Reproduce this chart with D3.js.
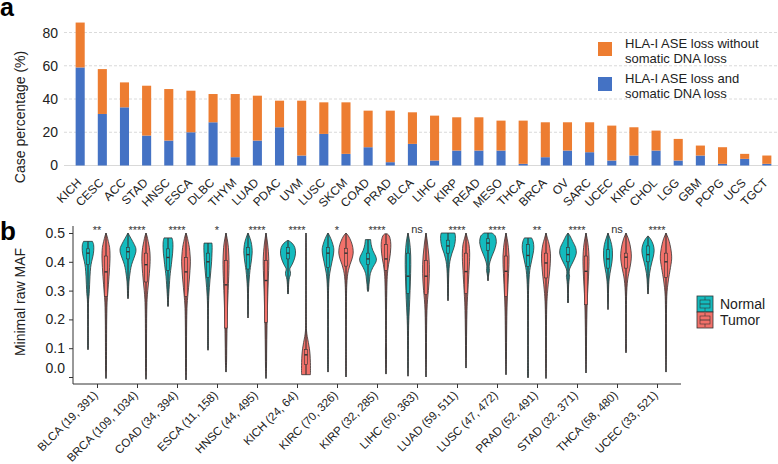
<!DOCTYPE html>
<html><head><meta charset="utf-8">
<script src="https://cdn.jsdelivr.net/npm/d3@7/dist/d3.min.js"></script>
<style>
body{margin:0;background:#fff;}
svg{font-family:"Liberation Sans",Arial,sans-serif;}
</style></head>
<body><svg id="c" width="778" height="464"></svg>
<script>
// ---------- Panel a data ----------
const categoriesA = ["KICH","CESC","ACC","STAD","HNSC","ESCA","DLBC","THYM","LUAD","PDAC","UVM","LUSC","SKCM","COAD","PRAD","BLCA","LIHC","KIRP","READ","MESO","THCA","BRCA","OV","SARC","UCEC","KIRC","CHOL","LGG","GBM","PCPG","UCS","TGCT"];
const withDnaLoss    = [59,31,35,18,15,20,26,5,15,23,6,19,7,11,2,13,3,9,9,9,1,5,9,8,3,6,9,3,6,1,4,1];
const withoutDnaLoss = [27,27,15,30,31,25,17,38,27,16,33,19,31,22,31,19,27,20,20,18,26,21,17,18,21,17,12,13,6,10,3,5];
const ticksA = [0,20,40,60,80];
const legendA = [["HLA-I ASE loss without","somatic DNA loss"],["HLA-I ASE loss and","somatic DNA loss"]];

// ---------- Panel b data ----------
const groupsB = ["BLCA (19, 391)","BRCA (109, 1034)","COAD (34, 394)","ESCA (11, 158)","HNSC (44, 495)","KICH (24, 64)","KIRC (70, 326)","KIRP (32, 285)","LIHC (50, 363)","LUAD (59, 511)","LUSC (47, 472)","PRAD (52, 491)","STAD (32, 371)","THCA (58, 480)","UCEC (33, 521)"];
const signifB = ["**","****","****","*","****","****","*","****","ns","****","****","**","****","ns","****"];
const ticksB = [0.0,0.1,0.2,0.3,0.4,0.5];
// violin profiles: [value, relative density width]
const normalProfiles = [
 [[0.471,0.55],[0.46,0.7],[0.44,0.72],[0.42,0.62],[0.40,0.45],[0.38,0.33],[0.35,0.25],[0.32,0.2],[0.29,0.15],[0.27,0.08],[0.24,0.05],[0.2,0.04],[0.15,0.035],[0.1,0.03],[0.095,0]],
 [[0.5,0],[0.49,0.2],[0.47,0.6],[0.45,0.95],[0.44,1.0],[0.43,0.95],[0.41,0.7],[0.39,0.45],[0.37,0.3],[0.35,0.2],[0.33,0.12],[0.30,0.07],[0.28,0.05],[0.272,0]],
 [[0.483,0.5],[0.47,0.6],[0.45,0.62],[0.43,0.58],[0.41,0.5],[0.39,0.42],[0.37,0.33],[0.35,0.25],[0.32,0.17],[0.29,0.1],[0.27,0.06],[0.25,0.04],[0.245,0]],
 [[0.465,0.5],[0.45,0.52],[0.43,0.5],[0.40,0.45],[0.37,0.36],[0.34,0.26],[0.31,0.17],[0.28,0.1],[0.25,0.06],[0.2,0.04],[0.15,0.035],[0.1,0.03],[0.093,0]],
 [[0.5,0],[0.49,0.15],[0.47,0.38],[0.45,0.5],[0.43,0.52],[0.41,0.45],[0.39,0.35],[0.37,0.25],[0.34,0.15],[0.31,0.08],[0.27,0.05],[0.23,0.04],[0.205,0]],
 [[0.475,0],[0.465,0.5],[0.45,0.85],[0.43,0.94],[0.41,0.8],[0.39,0.5],[0.375,0.22],[0.365,0.3],[0.355,0.3],[0.345,0.18],[0.33,0.1],[0.31,0.06],[0.29,0.04],[0.288,0]],
 [[0.5,0],[0.49,0.2],[0.47,0.5],[0.45,0.7],[0.44,0.73],[0.42,0.65],[0.40,0.5],[0.38,0.35],[0.36,0.22],[0.34,0.14],[0.31,0.08],[0.27,0.05],[0.2,0.04],[0.1,0.035],[0.03,0.03],[0.017,0]],
 [[0.477,0.33],[0.46,0.4],[0.44,0.6],[0.42,0.95],[0.41,1.05],[0.40,1.0],[0.38,0.6],[0.36,0.3],[0.34,0.2],[0.32,0.12],[0.30,0.06],[0.297,0]],
 [[0.5,0],[0.48,0.15],[0.45,0.28],[0.42,0.34],[0.39,0.35],[0.36,0.33],[0.33,0.3],[0.30,0.26],[0.27,0.22],[0.24,0.17],[0.21,0.12],[0.18,0.08],[0.14,0.06],[0.08,0.04],[0.03,0.03],[0.003,0]],
 [[0.5,0.85],[0.49,0.92],[0.47,0.9],[0.45,0.75],[0.43,0.5],[0.41,0.3],[0.39,0.18],[0.36,0.1],[0.32,0.06],[0.28,0.04],[0.265,0]],
 [[0.5,0.5],[0.49,0.9],[0.47,1.04],[0.46,1.0],[0.44,0.8],[0.42,0.5],[0.40,0.25],[0.385,0.15],[0.37,0.18],[0.36,0.12],[0.35,0.06],[0.334,0]],
 [[0.483,0.45],[0.47,0.65],[0.45,0.73],[0.43,0.65],[0.41,0.5],[0.39,0.35],[0.37,0.22],[0.34,0.13],[0.3,0.07],[0.24,0.05],[0.15,0.04],[0.07,0.035],[0.0,0.03],[-0.003,0]],
 [[0.5,0],[0.49,0.25],[0.47,0.6],[0.45,0.95],[0.43,1.04],[0.41,0.8],[0.39,0.45],[0.375,0.2],[0.36,0.15],[0.35,0.2],[0.34,0.15],[0.32,0.08],[0.29,0.05],[0.26,0.04],[0.257,0]],
 [[0.5,0],[0.48,0.25],[0.46,0.45],[0.44,0.55],[0.42,0.56],[0.40,0.5],[0.38,0.38],[0.36,0.25],[0.34,0.15],[0.32,0.09],[0.29,0.06],[0.26,0.04],[0.234,0]],
 [[0.49,0],[0.48,0.3],[0.46,0.65],[0.44,0.77],[0.42,0.68],[0.40,0.5],[0.38,0.33],[0.36,0.2],[0.34,0.12],[0.32,0.08],[0.30,0.05],[0.288,0]]
];
const tumorProfiles = [
 [[0.5,0],[0.49,0.12],[0.47,0.3],[0.45,0.45],[0.43,0.5],[0.41,0.5],[0.38,0.45],[0.35,0.38],[0.32,0.3],[0.29,0.22],[0.26,0.14],[0.22,0.1],[0.18,0.08],[0.12,0.07],[0.06,0.06],[0.02,0.05],[-0.005,0]],
 [[0.5,0],[0.49,0.12],[0.47,0.28],[0.45,0.42],[0.43,0.5],[0.41,0.52],[0.39,0.5],[0.36,0.42],[0.33,0.33],[0.30,0.22],[0.27,0.14],[0.22,0.09],[0.15,0.07],[0.08,0.06],[0.02,0.05],[-0.008,0]],
 [[0.5,0],[0.49,0.12],[0.47,0.28],[0.45,0.42],[0.42,0.52],[0.40,0.55],[0.37,0.5],[0.34,0.42],[0.31,0.32],[0.28,0.22],[0.25,0.14],[0.2,0.09],[0.14,0.07],[0.08,0.06],[0.02,0.05],[-0.01,0]],
 [[0.5,0],[0.48,0.15],[0.45,0.3],[0.42,0.36],[0.39,0.38],[0.35,0.34],[0.30,0.27],[0.25,0.2],[0.2,0.15],[0.15,0.12],[0.1,0.09],[0.05,0.07],[0.017,0]],
 [[0.5,0],[0.48,0.12],[0.45,0.25],[0.42,0.33],[0.40,0.35],[0.37,0.33],[0.33,0.28],[0.28,0.22],[0.23,0.17],[0.18,0.13],[0.13,0.1],[0.08,0.08],[0.03,0.06],[-0.005,0]],
 [[0.5,0],[0.45,0.03],[0.3,0.03],[0.2,0.04],[0.16,0.07],[0.14,0.16],[0.12,0.3],[0.10,0.42],[0.08,0.5],[0.05,0.55],[0.03,0.56],[0.015,0.56],[0.008,0.55]],
 [[0.5,0],[0.49,0.3],[0.47,0.65],[0.45,0.85],[0.43,0.9],[0.41,0.75],[0.39,0.5],[0.37,0.3],[0.35,0.18],[0.32,0.1],[0.28,0.06],[0.2,0.045],[0.1,0.035],[0.02,0.03],[0.0,0]],
 [[0.497,0.15],[0.49,0.4],[0.47,0.58],[0.45,0.6],[0.43,0.55],[0.41,0.45],[0.39,0.32],[0.37,0.22],[0.35,0.16],[0.3,0.1],[0.25,0.07],[0.18,0.05],[0.12,0.05],[0.09,0.07],[0.06,0.06],[0.03,0.04],[0.01,0]],
 [[0.5,0],[0.48,0.12],[0.45,0.25],[0.42,0.36],[0.39,0.42],[0.36,0.42],[0.33,0.38],[0.30,0.3],[0.27,0.2],[0.23,0.12],[0.18,0.08],[0.12,0.06],[0.06,0.05],[0.0,0]],
 [[0.5,0],[0.48,0.2],[0.46,0.38],[0.43,0.46],[0.40,0.44],[0.37,0.38],[0.34,0.32],[0.30,0.24],[0.26,0.16],[0.2,0.1],[0.14,0.07],[0.08,0.05],[0.031,0]],
 [[0.5,0],[0.48,0.15],[0.45,0.3],[0.42,0.38],[0.39,0.37],[0.36,0.32],[0.32,0.25],[0.28,0.18],[0.24,0.13],[0.18,0.09],[0.12,0.07],[0.06,0.05],[0.008,0]],
 [[0.5,0],[0.48,0.2],[0.46,0.4],[0.43,0.55],[0.41,0.56],[0.38,0.5],[0.35,0.4],[0.32,0.28],[0.29,0.18],[0.25,0.1],[0.18,0.06],[0.1,0.05],[0.03,0.04],[-0.005,0]],
 [[0.5,0],[0.48,0.15],[0.45,0.3],[0.42,0.37],[0.40,0.38],[0.37,0.35],[0.33,0.28],[0.29,0.2],[0.25,0.14],[0.2,0.1],[0.14,0.07],[0.07,0.05],[0.014,0]],
 [[0.5,0],[0.48,0.3],[0.46,0.5],[0.44,0.62],[0.42,0.67],[0.40,0.62],[0.38,0.5],[0.36,0.35],[0.34,0.22],[0.31,0.12],[0.28,0.07],[0.22,0.05],[0.15,0.04],[0.09,0.03],[0.084,0]],
 [[0.5,0],[0.48,0.3],[0.46,0.5],[0.43,0.68],[0.41,0.71],[0.39,0.62],[0.37,0.5],[0.34,0.32],[0.31,0.18],[0.28,0.1],[0.22,0.06],[0.15,0.05],[0.08,0.04],[0.017,0]]
];
// inner boxes: [q1, median, q3]
const normalBoxes = [[0.39,0.43,0.445],[0.41,0.435,0.45],[0.37,0.415,0.445],[0.345,0.40,0.43],[0.375,0.425,0.45],[0.41,0.43,0.45],[0.38,0.43,0.45],[0.39,0.41,0.43],[0.29,0.35,0.43],[0.43,0.455,0.475],[0.44,0.465,0.48],[0.384,0.422,0.46],[0.40,0.425,0.45],[0.378,0.41,0.442],[0.40,0.425,0.455]];
const tumorBoxes = [[0.28,0.365,0.42],[0.33,0.39,0.43],[0.28,0.365,0.415],[0.17,0.32,0.405],[0.19,0.335,0.405],[0.043,0.077,0.095],[0.385,0.43,0.447],[0.37,0.41,0.46],[0.286,0.35,0.405],[0.29,0.366,0.43],[0.28,0.367,0.42],[0.344,0.396,0.43],[0.251,0.367,0.42],[0.378,0.416,0.43],[0.346,0.40,0.43]];
const legendB = ["Normal","Tumor"];

const svg = d3.select("#c");
const FONT = "'Liberation Sans', Arial, sans-serif";
const ORANGE = "#ED7D31", BLUE = "#4472C4";
const TEAL = "#14BBBE", SALMON = "#F2716A", DARK = "#333333";

// ================= Panel a =================
const xA = d3.scaleBand().domain(categoriesA).range([69.1, 777.9]).paddingInner(0.59).paddingOuter(0.295);
const yA = d3.scaleLinear().domain([0, 90]).range([165.5, 15.9]);

svg.append("text").attr("x", 0).attr("y", 16).attr("font-size", 25).attr("font-weight", "bold").text("a");

// gridlines
svg.append("g").selectAll("line").data(ticksA.slice(1)).join("line")
  .attr("x1", 64).attr("x2", 778).attr("y1", d => yA(d)).attr("y2", d => yA(d))
  .attr("stroke", "#d0d0d0").attr("stroke-width", 0.8).attr("stroke-dasharray", "3,2");
svg.append("line").attr("x1", 64).attr("x2", 778).attr("y1", yA(0)).attr("y2", yA(0))
  .attr("stroke", "#d9d9d9").attr("stroke-width", 1);

const axA = svg.append("g").attr("transform", "translate(58,0)")
  .call(d3.axisLeft(yA).tickValues(ticksA).tickSize(0).tickPadding(0).tickFormat(d3.format("d")));
axA.select(".domain").remove();
axA.selectAll("text").attr("font-size", 14).attr("font-family", FONT).attr("fill", "#222");

svg.append("text").attr("transform", `translate(25,${117}) rotate(-90)`).attr("text-anchor", "middle")
  .attr("font-size", 14).attr("fill", "#222").text("Case percentage (%)");

// bars
const barsG = svg.append("g");
categoriesA.forEach((c, i) => {
  barsG.append("rect").attr("x", xA(c)).attr("width", xA.bandwidth())
    .attr("y", yA(withDnaLoss[i])).attr("height", yA(0) - yA(withDnaLoss[i])).attr("fill", BLUE);
  barsG.append("rect").attr("x", xA(c)).attr("width", xA.bandwidth())
    .attr("y", yA(withDnaLoss[i] + withoutDnaLoss[i])).attr("height", yA(withDnaLoss[i]) - yA(withDnaLoss[i] + withoutDnaLoss[i])).attr("fill", ORANGE);
});

const axXA = svg.append("g").attr("transform", `translate(0,${yA(0)})`)
  .call(d3.axisBottom(xA).tickSize(0).tickPadding(0));
axXA.select(".domain").remove();
axXA.selectAll("text").attr("font-size", 12).attr("font-family", FONT).attr("fill", "#222")
  .attr("text-anchor", "end").attr("dy", "0.35em").attr("y", 0)
  .attr("transform", "translate(-1,15) rotate(-45)");

// legend a
const legColors = [ORANGE, BLUE];
legendA.forEach((lines, i) => {
  const y0 = 42 + i * 35;
  svg.append("rect").attr("x", 598).attr("y", y0).attr("width", 14).attr("height", 14).attr("fill", legColors[i]);
  lines.forEach((t, j) => {
    svg.append("text").attr("x", 625).attr("y", y0 + 6 + j * 14.6).attr("font-size", 13).attr("fill", "#222").text(t);
  });
});

// ================= Panel b =================
const xB = d3.scalePoint().domain(groupsB).range([73, 681]).padding(0.6);
const yB = d3.scaleLinear().domain([0, 0.5]).range([377, 233]);
const wB = d3.scaleLinear().domain([0, 1]).range([0, 8]);
const offset = 9;

svg.append("text").attr("x", 0).attr("y", 240).attr("font-size", 26).attr("font-weight", "bold").text("b");

// axes
const axB = svg.append("g").attr("transform", "translate(73,0)")
  .call(d3.axisLeft(yB).tickValues(ticksB).tickSize(4).tickPadding(4).tickFormat(d3.format(".1f")));
axB.select(".domain").remove();
axB.selectAll("line").attr("stroke", DARK);
axB.selectAll("text").attr("font-size", 14).attr("font-family", FONT).attr("fill", "#222")
  .attr("dy", d => d === 0 ? "-0.35em" : "0.32em");
svg.append("line").attr("x1", 73).attr("x2", 73).attr("y1", 226).attr("y2", 384).attr("stroke", DARK).attr("stroke-width", 1);
svg.append("line").attr("x1", 73).attr("x2", 681).attr("y1", 384).attr("y2", 384).attr("stroke", DARK).attr("stroke-width", 1);

const axXB = svg.append("g").attr("transform", "translate(0,384)")
  .call(d3.axisBottom(xB).tickSize(4).tickPadding(0));
axXB.select(".domain").remove();
axXB.selectAll("line").attr("stroke", DARK);
axXB.selectAll("text").attr("font-size", 11.6).attr("font-family", FONT).attr("fill", "#222")
  .attr("text-anchor", "end").attr("dy", "0.35em").attr("y", 0)
  .attr("transform", "translate(-2,9) rotate(-45)");

svg.append("text").attr("transform", "translate(25,302) rotate(-90)").attr("text-anchor", "middle")
  .attr("font-size", 14).attr("fill", "#222").text("Minimal raw MAF");

// violins
const vg = svg.append("g");
function drawViolin(cx, prof, box, color) {
  const area = d3.area().curve(d3.curveCatmullRom)
    .y(d => yB(d[0])).x0(d => cx - wB(d[1])).x1(d => cx + wB(d[1]));
  vg.append("path").attr("d", area(prof)).attr("fill", color).attr("stroke", DARK).attr("stroke-width", 0.8);
  const top = prof[0][0], bot = prof[prof.length - 1][0];
  vg.append("line").attr("x1", cx).attr("x2", cx).attr("y1", yB(top)).attr("y2", yB(bot))
    .attr("stroke", DARK).attr("stroke-width", 1.1);
  vg.append("rect").attr("x", cx - 1.5).attr("width", 3).attr("y", yB(box[2])).attr("height", yB(box[0]) - yB(box[2]))
    .attr("fill", color).attr("stroke", DARK).attr("stroke-width", 0.6);
  vg.append("line").attr("x1", cx - 1.5).attr("x2", cx + 1.5).attr("y1", yB(box[1])).attr("y2", yB(box[1]))
    .attr("stroke", DARK).attr("stroke-width", 1.4);
}
groupsB.forEach((g, i) => {
  drawViolin(xB(g) - offset, normalProfiles[i], normalBoxes[i], TEAL);
  drawViolin(xB(g) + offset, tumorProfiles[i], tumorBoxes[i], SALMON);
});

// significance
svg.append("g").selectAll("text").data(groupsB).join("text")
  .attr("x", d => xB(d)).attr("y", (d, i) => signifB[i] === "ns" ? 233 : 234)
  .attr("text-anchor", "middle").attr("font-size", 11).attr("fill", "#333")
  .text((d, i) => signifB[i]);

// legend b
const legBColors = [TEAL, SALMON];
legendB.forEach((t, i) => {
  const y0 = 296 + i * 16;
  const lg = svg.append("g");
  lg.append("rect").attr("x", 697).attr("y", y0).attr("width", 16).attr("height", 16)
    .attr("fill", legBColors[i]).attr("stroke", DARK).attr("stroke-width", 0.8);
  lg.append("rect").attr("x", 700).attr("y", y0 + 4).attr("width", 10).attr("height", 8)
    .attr("fill", "none").attr("stroke", DARK).attr("stroke-width", 0.6);
  lg.append("line").attr("x1", 700).attr("x2", 710).attr("y1", y0 + 8).attr("y2", y0 + 8)
    .attr("stroke", DARK).attr("stroke-width", 0.8);
  lg.append("line").attr("x1", 705).attr("x2", 705).attr("y1", y0 + 1).attr("y2", y0 + 4)
    .attr("stroke", DARK).attr("stroke-width", 0.6);
  lg.append("line").attr("x1", 705).attr("x2", 705).attr("y1", y0 + 12).attr("y2", y0 + 15)
    .attr("stroke", DARK).attr("stroke-width", 0.6);
  svg.append("text").attr("x", 720).attr("y", y0 + 8).attr("dy", "0.35em").attr("font-size", 14).attr("fill", "#222").text(t);
});
</script></body></html>
